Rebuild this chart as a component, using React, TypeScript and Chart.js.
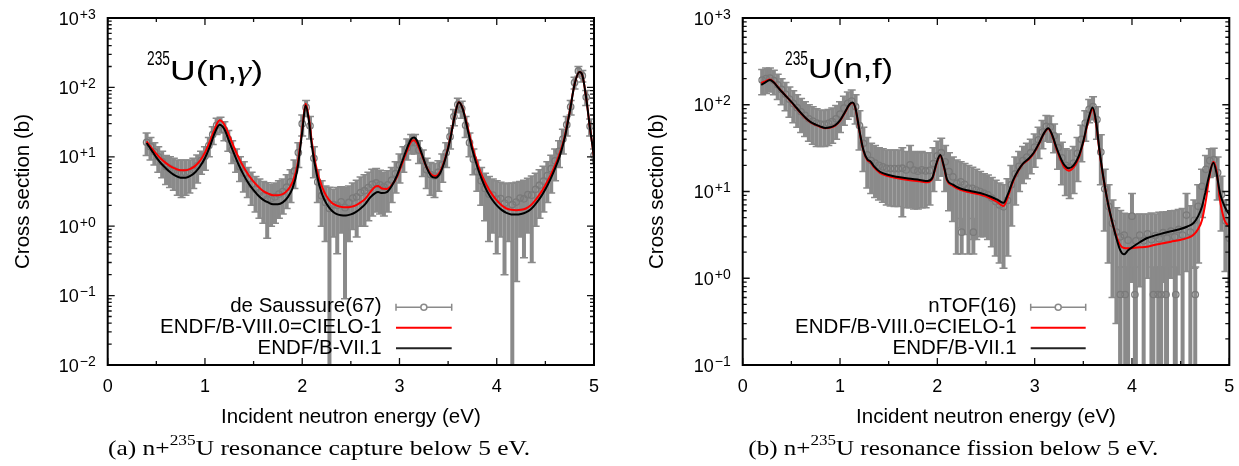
import React, { useEffect, useRef } from 'react';
import { Chart, registerables } from 'chart.js';

Chart.register(...registerables);

// ---------- axis ticks ----------
const xMajorTicks = [0, 1, 2, 3, 4, 5];
const xMinorTicks = [0.5, 1.5, 2.5, 3.5, 4.5];
const xTickLabels = ['0', '1', '2', '3', '4', '5'];

// ---------- legend / titles ----------
const capLegend = ['de Saussure(67)', 'ENDF/B-VIII.0=CIELO-1', 'ENDF/B-VII.1'];
const fisLegend = ['nTOF(16)', 'ENDF/B-VIII.0=CIELO-1', 'ENDF/B-VII.1'];

// ---------- (a) capture: de Saussure(67) [E eV, sigma b, uncertainty b] ----------
const deSaussure: number[][] = [
  [0.40, 16.2, 5.8], [0.44, 14, 5], [0.48, 11.8, 4.2], [0.52, 10, 4], [0.56, 8.5, 3.5],
  [0.60, 7.2, 3.2], [0.64, 6.8, 3.2], [0.68, 6.4, 3.1], [0.72, 5.9, 3.1], [0.76, 5.8, 3.2],
  [0.80, 5.9, 3.1], [0.84, 6, 3], [0.88, 6.5, 3], [0.92, 7.4, 3.2], [0.96, 8.8, 3.2],
  [1.00, 10.2, 3.8], [1.04, 14.5, 4.5], [1.08, 21, 6], [1.12, 28.5, 7.5], [1.16, 29.5, 7.5],
  [1.20, 24.5, 7.5], [1.24, 18, 6], [1.28, 12.5, 4.5], [1.32, 9.5, 3.5], [1.36, 7.2, 2.8],
  [1.40, 5.8, 2.7], [1.44, 4.8, 2.2], [1.48, 4, 2], [1.52, 3.4, 1.8], [1.56, 3.05, 1.75],
  [1.60, 2.75, 1.65], [1.64, 2.45, 1.78], [1.68, 2.5, 1.5], [1.72, 2.65, 1.55], [1.76, 2.9, 1.6],
  [1.80, 3.15, 1.65], [1.84, 3.65, 1.85], [1.88, 4.35, 2.15], [1.92, 6.25, 2.75], [1.96, 11.5, 4.5],
  [2.00, 30, 10], [2.04, 51.5, 13.5], [2.08, 28, 10], [2.12, 9.5, 4.5], [2.16, 4.35, 2.15],
  [2.20, 2.75, 1.75], [2.24, 2.2, 1.6], [2.28, 1.8, 1.85], [2.32, 2.05, 1.35], [2.36, 2.0, 1.6],
  [2.40, 2.25, 1.45], [2.44, 1.85, 1.76], [2.48, 2.2, 1.6], [2.52, 2.55, 1.65], [2.56, 2.65, 1.95],
  [2.60, 3.05, 2.05], [2.64, 3.25, 2.25], [2.68, 3.6, 2.4], [2.72, 4.0, 2.6], [2.76, 4.2, 2.6],
  [2.80, 3.95, 2.45], [2.84, 3.7, 2.3], [2.88, 3.95, 2.35], [2.92, 4.6, 2.4], [2.96, 5.75, 2.75],
  [3.00, 7.6, 3.4], [3.04, 10, 4], [3.08, 13.5, 4.5], [3.12, 16, 5], [3.16, 16, 5],
  [3.20, 12.5, 4.5], [3.24, 8.85, 3.65], [3.28, 6.5, 3], [3.32, 5.55, 2.75], [3.36, 5.3, 2.7],
  [3.40, 6, 2.8], [3.44, 7.65, 3.35], [3.48, 11.5, 4.5], [3.52, 19.5, 6.5], [3.56, 38, 10],
  [3.60, 56.5, 13.5], [3.64, 49.5, 13.5], [3.68, 28.5, 9.5], [3.72, 16, 6], [3.76, 9.25, 3.75],
  [3.80, 6.1, 2.9], [3.84, 4.5, 2.5], [3.88, 3.5, 2.3], [3.92, 2.9, 2.3], [3.96, 2.8, 2.0],
  [4.00, 2.45, 2.05], [4.04, 2.5, 1.8], [4.08, 2.15, 1.95], [4.12, 2.4, 1.8], [4.16, 2.05, 2.1],
  [4.20, 2.23, 2.07], [4.24, 2.55, 1.85], [4.28, 2.48, 2.13], [4.32, 2.85, 2.05], [4.36, 2.8, 2.5],
  [4.40, 3.4, 2.4], [4.44, 3.9, 2.6], [4.48, 4.45, 2.85], [4.52, 5.35, 3.15], [4.56, 6.75, 3.75],
  [4.60, 8.75, 4.25], [4.64, 12, 5], [4.68, 18, 7], [4.72, 29, 9], [4.76, 52.5, 12.5],
  [4.80, 117.5, 22.5], [4.84, 172.5, 27.5], [4.88, 147.5, 27.5], [4.92, 72.5, 17.5], [4.96, 27.5, 7.5],
  [5.00, 10.5, 2.5],
];

// ---------- (a) capture evaluations [E eV, sigma b] ----------
const capCIELO: number[][] = [
  [0.40, 16.7], [0.45, 13.5], [0.50, 11.0], [0.55, 9.3], [0.60, 8.1], [0.65, 7.2], [0.70, 6.7],
  [0.75, 6.4], [0.80, 6.4], [0.85, 6.7], [0.90, 7.4], [0.95, 8.8], [1.00, 11.5], [1.05, 16.5],
  [1.10, 25], [1.15, 33.5], [1.20, 29], [1.25, 20], [1.30, 13.5], [1.35, 9.5], [1.40, 7.0],
  [1.45, 5.4], [1.50, 4.4], [1.55, 3.7], [1.60, 3.2], [1.65, 2.95], [1.70, 2.8], [1.75, 2.8],
  [1.80, 2.9], [1.85, 3.3], [1.90, 4.3], [1.95, 7.5], [2.00, 25], [2.035, 58], [2.07, 35],
  [2.10, 16], [2.15, 6.5], [2.20, 3.8], [2.25, 2.7], [2.30, 2.2], [2.35, 2.0], [2.40, 1.9],
  [2.45, 1.87], [2.50, 1.9], [2.55, 2.0], [2.60, 2.2], [2.65, 2.5], [2.70, 3.1], [2.75, 3.7],
  [2.78, 3.8], [2.82, 3.5], [2.87, 3.45], [2.92, 3.9], [2.97, 5.0], [3.02, 7.5], [3.07, 11.5],
  [3.12, 16.5], [3.15, 17.3], [3.18, 15.5], [3.23, 10.5], [3.28, 7.0], [3.33, 5.5], [3.37, 5.3],
  [3.42, 6.2], [3.47, 9.5], [3.52, 18], [3.57, 40], [3.61, 61], [3.65, 50], [3.70, 27],
  [3.75, 14], [3.80, 8.2], [3.85, 5.3], [3.90, 3.8], [3.95, 2.9], [4.00, 2.35], [4.05, 2.0],
  [4.10, 1.8], [4.15, 1.72], [4.20, 1.7], [4.25, 1.72], [4.30, 1.8], [4.35, 2.0], [4.40, 2.4],
  [4.45, 3.0], [4.50, 3.9], [4.55, 5.3], [4.60, 7.5], [4.65, 11.5], [4.70, 20], [4.75, 45],
  [4.80, 110], [4.85, 166], [4.88, 150], [4.92, 70], [4.96, 25], [5.00, 10],
];
const capB71: number[][] = [
  [0.40, 15.8], [0.45, 12.5], [0.50, 9.8], [0.55, 8.0], [0.60, 6.8], [0.65, 5.9], [0.70, 5.3],
  [0.75, 5.0], [0.80, 5.0], [0.85, 5.3], [0.90, 6.0], [0.95, 7.3], [1.00, 9.6], [1.05, 14],
  [1.10, 22], [1.15, 29], [1.20, 25], [1.25, 16.5], [1.30, 11], [1.35, 7.5], [1.40, 5.4],
  [1.45, 4.1], [1.50, 3.3], [1.55, 2.75], [1.60, 2.4], [1.65, 2.2], [1.70, 2.07], [1.75, 2.07],
  [1.80, 2.2], [1.85, 2.6], [1.90, 3.5], [1.95, 6.5], [2.00, 23], [2.035, 55], [2.07, 32],
  [2.10, 14], [2.15, 5.5], [2.20, 3.0], [2.25, 2.1], [2.30, 1.7], [2.35, 1.5], [2.40, 1.44],
  [2.45, 1.43], [2.50, 1.48], [2.55, 1.6], [2.60, 1.8], [2.65, 2.1], [2.70, 2.6], [2.75, 3.0],
  [2.78, 3.1], [2.82, 3.0], [2.87, 3.1], [2.92, 3.8], [2.97, 5.2], [3.02, 8.0], [3.07, 12.5],
  [3.12, 18], [3.15, 18.9], [3.18, 17], [3.23, 11], [3.28, 7.0], [3.33, 5.2], [3.37, 5.0],
  [3.42, 5.9], [3.47, 9.2], [3.52, 17.5], [3.57, 40], [3.61, 61], [3.65, 49], [3.70, 25],
  [3.75, 12.5], [3.80, 7.2], [3.85, 4.6], [3.90, 3.2], [3.95, 2.45], [4.00, 2.0], [4.05, 1.72],
  [4.10, 1.56], [4.15, 1.48], [4.20, 1.47], [4.25, 1.5], [4.30, 1.58], [4.35, 1.75], [4.40, 2.1],
  [4.45, 2.6], [4.50, 3.4], [4.55, 4.7], [4.60, 6.8], [4.65, 10.5], [4.70, 19], [4.75, 44],
  [4.80, 110], [4.85, 166], [4.88, 150], [4.92, 70], [4.96, 25], [5.00, 10],
];

// ---------- (b) fission: nTOF(16) [E eV, sigma b, uncertainty b] ----------
const nTOF: number[][] = [
  [0.20, 192.5, 62.5], [0.24, 200, 65], [0.28, 202.5, 62.5], [0.32, 190, 60], [0.36, 170, 55],
  [0.40, 150, 50], [0.44, 132.5, 47.5], [0.48, 116, 44], [0.52, 103.5, 41.5], [0.56, 92.5, 37.5],
  [0.60, 83, 35], [0.64, 75.5, 32.5], [0.68, 69, 31], [0.72, 65, 30], [0.76, 61.5, 28.5],
  [0.80, 60, 27], [0.84, 59.5, 26.5], [0.88, 61, 27], [0.92, 64, 28], [0.96, 69, 29],
  [1.00, 78, 30], [1.04, 91.5, 33.5], [1.08, 104, 36], [1.12, 110.5, 37.5], [1.16, 95, 35],
  [1.20, 57.5, 27.5], [1.24, 36, 19], [1.28, 26.5, 15.5], [1.32, 22.75, 13.25], [1.36, 21.25, 12.75],
  [1.40, 20, 12], [1.44, 19.25, 11.75], [1.48, 18.5, 11.5], [1.52, 18.4, 11.6], [1.56, 18.35, 11.65],
  [1.60, 18.35, 11.65], [1.64, 18.55, 13.45], [1.68, 17.75, 11.25], [1.72, 20.25, 13.75], [1.76, 17.65, 11.35],
  [1.80, 17.15, 10.85], [1.84, 17.75, 11.25], [1.88, 17.25, 10.75], [1.92, 17.5, 10.5], [1.96, 21, 11],
  [2.00, 25.75, 12.25], [2.04, 28, 13], [2.08, 22, 12], [2.12, 17, 11], [2.16, 14.75, 10.25],
  [2.20, 12.45, 10.55], [2.24, 12.9, 9.1], [2.28, 12.1, 8.9], [2.32, 10.95, 9.05], [2.36, 10.9, 8.1],
  [2.40, 10.4, 7.6], [2.44, 10, 7], [2.48, 9.5, 6.5], [2.52, 9.15, 6.35], [2.56, 8.4, 6.1],
  [2.60, 7.65, 5.85], [2.64, 7, 5.5], [2.68, 6.65, 5.35], [2.72, 7.9, 6.1], [2.76, 12, 8],
  [2.80, 16, 9], [2.84, 19.5, 9.5], [2.88, 22.7, 10.3], [2.92, 25, 11], [2.96, 28, 12],
  [3.00, 32.5, 13.5], [3.04, 39.5, 15.5], [3.08, 48.5, 17.5], [3.12, 56.5, 18.5], [3.16, 55.5, 18.5],
  [3.20, 44, 16], [3.24, 32, 14], [3.28, 24.5, 12.5], [3.32, 20, 11], [3.36, 19.15, 10.85],
  [3.40, 21.25, 11.75], [3.44, 27.5, 14.5], [3.48, 40, 18], [3.52, 61.5, 23.5], [3.56, 88.5, 26.5],
  [3.60, 95.5, 28.5], [3.64, 67.5, 27.5], [3.68, 28.5, 16.5], [3.72, 10.75, 7.25], [3.76, 6.75, 5.25],
  [3.80, 4.3, 3.7], [3.84, 3.4, 3.1], [3.88, 3, 3.05], [3.92, 3.15, 2.45], [3.96, 2.75, 2.8],
  [4.00, 5.2, 4.3], [4.04, 2.7, 2.75], [4.08, 3.15, 2.35], [4.12, 2.7, 2.75], [4.16, 3.25, 2.25],
  [4.20, 2.8, 2.85], [4.24, 3.1, 2.4], [4.28, 2.85, 2.9], [4.32, 3.35, 2.45], [4.36, 2.9, 2.95],
  [4.40, 3.5, 2.5], [4.44, 3.0, 3.05], [4.48, 3.65, 2.55], [4.52, 3.15, 3.2], [4.56, 5.35, 4.15],
  [4.60, 3.4, 3.45], [4.64, 4.65, 3.35], [4.68, 6.75, 5.25], [4.72, 11.5, 6.5], [4.76, 18, 8],
  [4.80, 22.75, 8.25], [4.84, 23.25, 8.25], [4.88, 16.5, 8.5], [4.92, 9.25, 5.75], [4.96, 4.6, 3.4],
  [5.00, 2.9, 2.1],
];
// isolated nTOF points standing apart from the main band
const nTOFOutliers: number[][] = [
  [2.25, 3.4, 1.5], [2.37, 3.4, 1.5], [3.88, 0.65, 0.7], [3.93, 0.65, 0.7], [4.03, 0.65, 0.7],
  [4.22, 0.65, 0.7], [4.27, 0.65, 0.7], [4.30, 0.65, 0.7], [4.35, 0.65, 0.7], [4.45, 0.65, 0.7],
  [4.65, 0.65, 0.7],
];

// ---------- (b) fission evaluations [E eV, sigma b] ----------
const fisCIELO: number[][] = [
  [0.19, 178], [0.23, 186], [0.28, 196], [0.32, 182], [0.36, 161], [0.40, 143], [0.45, 124],
  [0.50, 107], [0.55, 92], [0.60, 79], [0.65, 69.5], [0.70, 62.5], [0.75, 58.5], [0.80, 55.5],
  [0.85, 53.5], [0.90, 54.5], [0.95, 57.5], [1.00, 65], [1.05, 81], [1.10, 101], [1.13, 105],
  [1.16, 89], [1.20, 49], [1.24, 29.5], [1.28, 23], [1.31, 21.8], [1.35, 19], [1.41, 16.4],
  [1.50, 15], [1.58, 14.3], [1.70, 13.6], [1.82, 13.1], [1.90, 12.8], [1.95, 14.2], [1.99, 20.5],
  [2.03, 26], [2.07, 18.5], [2.10, 13.3], [2.16, 11.6], [2.23, 10.5], [2.33, 9.8], [2.44, 9.2],
  [2.55, 8.3], [2.62, 7.5], [2.68, 6.8], [2.72, 8.4], [2.78, 13.2], [2.83, 17.2], [2.88, 20.8],
  [2.94, 23.5], [2.99, 27.5], [3.05, 36.5], [3.10, 47.5], [3.14, 53], [3.18, 44], [3.22, 32],
  [3.26, 24.2], [3.30, 19.4], [3.35, 17.4], [3.40, 19], [3.45, 24], [3.50, 37], [3.55, 64],
  [3.596, 88.5], [3.63, 62], [3.67, 26.5], [3.74, 8.7], [3.81, 3.9], [3.88, 2.4], [3.92, 2.23],
  [3.96, 2.21], [4.01, 2.23], [4.08, 2.27], [4.15, 2.31], [4.23, 2.42], [4.32, 2.53], [4.40, 2.64],
  [4.49, 2.76], [4.57, 2.92], [4.63, 3.15], [4.68, 3.7], [4.72, 4.7], [4.76, 8], [4.79, 13.6],
  [4.836, 22], [4.87, 17], [4.904, 8.0], [4.95, 4.7], [5.00, 3.9],
];
const fisB71: number[][] = [
  [0.19, 170], [0.23, 180], [0.28, 193], [0.32, 180], [0.36, 160], [0.40, 142], [0.45, 124],
  [0.50, 108], [0.55, 93], [0.60, 80], [0.65, 70], [0.70, 63], [0.75, 59], [0.80, 56],
  [0.85, 54], [0.90, 55], [0.95, 58], [1.00, 66], [1.05, 82], [1.10, 102], [1.13, 106],
  [1.16, 90], [1.20, 50], [1.24, 30], [1.28, 23.5], [1.31, 22.4], [1.35, 19.5], [1.41, 16.9],
  [1.50, 15.5], [1.58, 14.8], [1.70, 14.1], [1.82, 13.6], [1.90, 13.2], [1.95, 14.5], [1.99, 21],
  [2.03, 26.3], [2.07, 19], [2.10, 13.7], [2.16, 12.0], [2.23, 10.9], [2.33, 10.2], [2.44, 9.6],
  [2.55, 8.7], [2.62, 8.0], [2.68, 7.4], [2.72, 9.0], [2.78, 13.6], [2.83, 17.5], [2.88, 21],
  [2.94, 24], [2.99, 28], [3.05, 37], [3.10, 48], [3.14, 53.6], [3.18, 45], [3.22, 33],
  [3.26, 25.2], [3.30, 20.5], [3.35, 18.5], [3.40, 20], [3.45, 25], [3.50, 38], [3.55, 66.7],
  [3.596, 93], [3.63, 65], [3.67, 27.5], [3.74, 8.7], [3.81, 3.9], [3.88, 2.1], [3.92, 1.89],
  [3.96, 2.1], [4.01, 2.31], [4.08, 2.6], [4.15, 2.89], [4.23, 3.1], [4.32, 3.3], [4.40, 3.48],
  [4.49, 3.67], [4.57, 3.95], [4.63, 4.3], [4.68, 5.2], [4.72, 6.7], [4.76, 10.5], [4.79, 14.8],
  [4.836, 21.5], [4.87, 16], [4.904, 9.6], [4.95, 6.8], [5.00, 5.4],
];

// ---------- styling ----------
const GRAY = '#8a8a8a';
const SANS = '"Liberation Sans", Arial, Helvetica, sans-serif';
const SERIF = '"Liberation Serif", "Times New Roman", serif';

type Run = { text: string; font: string; dy?: number };

function drawRuns(ctx: CanvasRenderingContext2D, runs: Run[], x: number, y: number, width: number) {
  ctx.save();
  ctx.textAlign = 'left';
  ctx.textBaseline = 'alphabetic';
  let total = 0;
  const widths = runs.map((r) => {
    ctx.font = r.font;
    const w = ctx.measureText(r.text).width;
    total += w;
    return w;
  });
  ctx.translate(x, y);
  ctx.scale(width / total, 1);
  let cx = 0;
  runs.forEach((r, i) => {
    ctx.font = r.font;
    ctx.fillText(r.text, cx, r.dy || 0);
    cx += widths[i];
  });
  ctx.restore();
}

type PanelCfg = {
  padding: { left: number; right: number; top: number; bottom: number };
  yMin: number;
  exps: number[];
  data: number[][];
  cielo: number[][];
  b71: number[][];
  legend: string[];
  legendRight: number;
  sampleX: [number, number];
  yTitleX: number;
  titleSup: { x: number; w: number };
  titleBase: { x: number; w: number; y: number };
  titleRuns: Run[];
  captionRuns: Run[];
  caption: { x: number; w: number };
};

const errorBarPlugin = {
  id: 'errorBars',
  beforeDatasetsDraw(chart: any) {
    const { ctx, chartArea: a, scales } = chart;
    const xs = scales.x;
    const ys = scales.y;
    ctx.save();
    ctx.beginPath();
    ctx.rect(a.left, a.top, a.right - a.left, a.bottom - a.top);
    ctx.clip();
    ctx.strokeStyle = GRAY;
    chart.data.datasets.forEach((ds: any) => {
      if (!ds.errorBars) return;
      ds.data.forEach((p: any) => {
        const px = xs.getPixelForValue(p.x);
        const hi = ys.getPixelForValue(p.y + p.e);
        const loV = p.y - p.e;
        const lo = loV > 0 ? ys.getPixelForValue(loV) : a.bottom + 3;
        ctx.lineWidth = 4;
        ctx.beginPath();
        ctx.moveTo(px, hi);
        ctx.lineTo(px, lo);
        ctx.stroke();
        ctx.lineWidth = 1.5;
        ctx.beginPath();
        ctx.moveTo(px - 4, hi);
        ctx.lineTo(px + 4, hi);
        if (loV > 0) {
          ctx.moveTo(px - 4, lo);
          ctx.lineTo(px + 4, lo);
        }
        ctx.stroke();
      });
    });
    ctx.restore();
  },
};

function decorPlugin(cfg: PanelCfg) {
  return {
    id: 'decor',
    afterDraw(chart: any) {
      const { ctx, chartArea: a, scales } = chart;
      const xs = scales.x;
      const ys = scales.y;
      ctx.save();
      // ticks (inward, all four sides)
      ctx.strokeStyle = '#111';
      ctx.lineWidth = 1.3;
      ctx.beginPath();
      xMajorTicks.forEach((t) => {
        const px = xs.getPixelForValue(t);
        ctx.moveTo(px, a.bottom);
        ctx.lineTo(px, a.bottom - 7);
        ctx.moveTo(px, a.top);
        ctx.lineTo(px, a.top + 7);
      });
      xMinorTicks.forEach((t) => {
        const px = xs.getPixelForValue(t);
        ctx.moveTo(px, a.bottom);
        ctx.lineTo(px, a.bottom - 4);
        ctx.moveTo(px, a.top);
        ctx.lineTo(px, a.top + 4);
      });
      const topExp = cfg.exps[cfg.exps.length - 1];
      cfg.exps.forEach((e) => {
        for (let k = 1; k <= 9; k++) {
          if (e === topExp && k > 1) continue;
          const v = k * Math.pow(10, e);
          const py = ys.getPixelForValue(v);
          const len = k === 1 ? 7 : 4;
          ctx.moveTo(a.left, py);
          ctx.lineTo(a.left + len, py);
          ctx.moveTo(a.right, py);
          ctx.lineTo(a.right - len, py);
        }
      });
      ctx.stroke();
      // frame
      ctx.lineWidth = 2;
      ctx.strokeStyle = '#000';
      ctx.strokeRect(a.left, a.top, a.right - a.left, a.bottom - a.top);

      ctx.fillStyle = '#000';
      // x tick labels
      ctx.font = `18px ${SANS}`;
      ctx.textAlign = 'center';
      ctx.textBaseline = 'alphabetic';
      xMajorTicks.forEach((t, i) => {
        ctx.fillText(xTickLabels[i], xs.getPixelForValue(t), 391.5);
      });
      // y tick labels 10^{±n}
      cfg.exps.forEach((e) => {
        const py = ys.getPixelForValue(Math.pow(10, e));
        const sup = (e >= 0 ? '+' : '\u2212') + Math.abs(e);
        ctx.font = `14px ${SANS}`;
        const wS = ctx.measureText(sup).width;
        ctx.font = `18px ${SANS}`;
        const wB = ctx.measureText('10').width;
        const right = a.left - 12;
        ctx.textAlign = 'left';
        ctx.fillText('10', right - wS - wB - 1, py + 6.5);
        ctx.font = `14px ${SANS}`;
        ctx.fillText(sup, right - wS, py + 0.5);
      });
      // axis titles
      ctx.font = `20.5px ${SANS}`;
      ctx.textAlign = 'center';
      ctx.fillText('Incident neutron energy (eV)', (a.left + a.right) / 2, 422.5);
      ctx.save();
      ctx.translate(cfg.yTitleX, (a.top + a.bottom) / 2);
      ctx.rotate(-Math.PI / 2);
      ctx.textBaseline = 'middle';
      ctx.fillText('Cross section (b)', 0, 0);
      ctx.restore();

      // panel title
      drawRuns(ctx, [{ text: '235', font: `20px ${SANS}` }], cfg.titleSup.x, 65, cfg.titleSup.w);
      drawRuns(ctx, cfg.titleRuns, cfg.titleBase.x, cfg.titleBase.y, cfg.titleBase.w);

      // legend
      const baselines = [311.7, 333.3, 354];
      const lineYs = [307.3, 327.7, 348.3];
      ctx.font = `20.5px ${SANS}`;
      ctx.textAlign = 'right';
      cfg.legend.forEach((t, i) => ctx.fillText(t, cfg.legendRight, baselines[i]));
      const [s0, s1] = cfg.sampleX;
      ctx.strokeStyle = GRAY;
      ctx.lineWidth = 1.5;
      ctx.beginPath();
      ctx.moveTo(s0, lineYs[0]);
      ctx.lineTo(s1, lineYs[0]);
      ctx.moveTo(s0, lineYs[0] - 3.5);
      ctx.lineTo(s0, lineYs[0] + 3.5);
      ctx.moveTo(s1, lineYs[0] - 3.5);
      ctx.lineTo(s1, lineYs[0] + 3.5);
      ctx.stroke();
      ctx.beginPath();
      ctx.fillStyle = '#fff';
      ctx.arc((s0 + s1) / 2, lineYs[0], 3, 0, Math.PI * 2);
      ctx.fill();
      ctx.stroke();
      ctx.lineWidth = 2;
      ctx.strokeStyle = '#ff0000';
      ctx.beginPath();
      ctx.moveTo(s0, lineYs[1]);
      ctx.lineTo(s1, lineYs[1]);
      ctx.stroke();
      ctx.strokeStyle = '#222';
      ctx.beginPath();
      ctx.moveTo(s0, lineYs[2]);
      ctx.lineTo(s1, lineYs[2]);
      ctx.stroke();

      // caption
      ctx.fillStyle = '#000';
      drawRuns(ctx, cfg.captionRuns, cfg.caption.x, 455, cfg.caption.w);
      ctx.restore();
    },
  };
}

function buildChart(canvas: HTMLCanvasElement, cfg: PanelCfg) {
  const toXY = (arr: number[][]) => arr.map(([x, y]) => ({ x, y }));
  return new Chart(canvas, {
    type: 'line',
    data: {
      datasets: [
        {
          label: cfg.legend[2],
          data: toXY(cfg.b71),
          borderColor: '#000',
          borderWidth: 2,
          pointRadius: 0,
          cubicInterpolationMode: 'monotone',
          order: 0,
        } as any,
        {
          label: cfg.legend[1],
          data: toXY(cfg.cielo),
          borderColor: '#ff0000',
          borderWidth: 2,
          pointRadius: 0,
          cubicInterpolationMode: 'monotone',
          order: 1,
        } as any,
        {
          label: cfg.legend[0],
          data: cfg.data.map(([x, y, e]) => ({ x, y, e })),
          showLine: false,
          pointRadius: 3.2,
          pointBorderWidth: 1.3,
          pointBorderColor: '#7a7a7a',
          pointBackgroundColor: 'rgba(0,0,0,0)',
          errorBars: true,
          order: 2,
        } as any,
      ],
    },
    options: {
      responsive: false,
      animation: false,
      devicePixelRatio: 1,
      events: [],
      layout: { padding: cfg.padding },
      scales: {
        x: { type: 'linear', min: 0, max: 5, display: false },
        y: { type: 'logarithmic', min: cfg.yMin, max: 1000, display: false },
      },
      plugins: { legend: { display: false }, tooltip: { enabled: false } },
    } as any,
    plugins: [errorBarPlugin, decorPlugin(cfg)],
  });
}

const capCfg: PanelCfg = {
  padding: { left: 107.7, right: 620 - 594, top: 18, bottom: 466 - 365 },
  yMin: 0.01,
  exps: [-2, -1, 0, 1, 2, 3],
  data: deSaussure,
  cielo: capCIELO,
  b71: capB71,
  legend: capLegend,
  legendRight: 381.7,
  sampleX: [396, 451.7],
  yTitleX: 23,
  titleSup: { x: 147, w: 23 },
  titleBase: { x: 170, w: 93, y: 80 },
  titleRuns: [
    { text: 'U(n,', font: `28px ${SANS}` },
    { text: '\u03b3', font: `italic 28px ${SERIF}` },
    { text: ')', font: `28px ${SANS}` },
  ],
  captionRuns: [
    { text: '(a) n+', font: `22px ${SERIF}` },
    { text: '235', font: `15px ${SERIF}`, dy: -10 },
    { text: 'U resonance capture below 5 eV.', font: `22px ${SERIF}` },
  ],
  caption: { x: 108, w: 422 },
};

const fisCfg: PanelCfg = {
  padding: { left: 742.7 - 620, right: 1239 - 1229.3, top: 18, bottom: 466 - 365 },
  yMin: 0.1,
  exps: [-1, 0, 1, 2, 3],
  data: [...nTOF, ...nTOFOutliers],
  cielo: fisCIELO,
  b71: fisB71,
  legend: fisLegend,
  legendRight: 1016.7 - 620,
  sampleX: [1030.7 - 620, 1085.7 - 620],
  yTitleX: 657 - 620,
  titleSup: { x: 785 - 620, w: 23 },
  titleBase: { x: 808 - 620, w: 85, y: 78.3 },
  titleRuns: [{ text: 'U(n,f)', font: `28px ${SANS}` }],
  captionRuns: [
    { text: '(b) n+', font: `22px ${SERIF}` },
    { text: '235', font: `15px ${SERIF}`, dy: -10 },
    { text: 'U resonance fission below 5 eV.', font: `22px ${SERIF}` },
  ],
  caption: { x: 748.3 - 620, w: 410 },
};

export default function App() {
  const leftRef = useRef<HTMLCanvasElement>(null);
  const rightRef = useRef<HTMLCanvasElement>(null);

  useEffect(() => {
    const c1 = buildChart(leftRef.current!, capCfg);
    const c2 = buildChart(rightRef.current!, fisCfg);
    return () => {
      c1.destroy();
      c2.destroy();
    };
  }, []);

  return (
    <div style={{ position: 'absolute', left: 0, top: 0, width: 1239, height: 466, background: '#fff' }}>
      <canvas
        ref={leftRef}
        width={620}
        height={466}
        style={{ position: 'absolute', left: 0, top: 0, width: 620, height: 466 }}
      />
      <canvas
        ref={rightRef}
        width={619}
        height={466}
        style={{ position: 'absolute', left: 620, top: 0, width: 619, height: 466 }}
      />
    </div>
  );
}
